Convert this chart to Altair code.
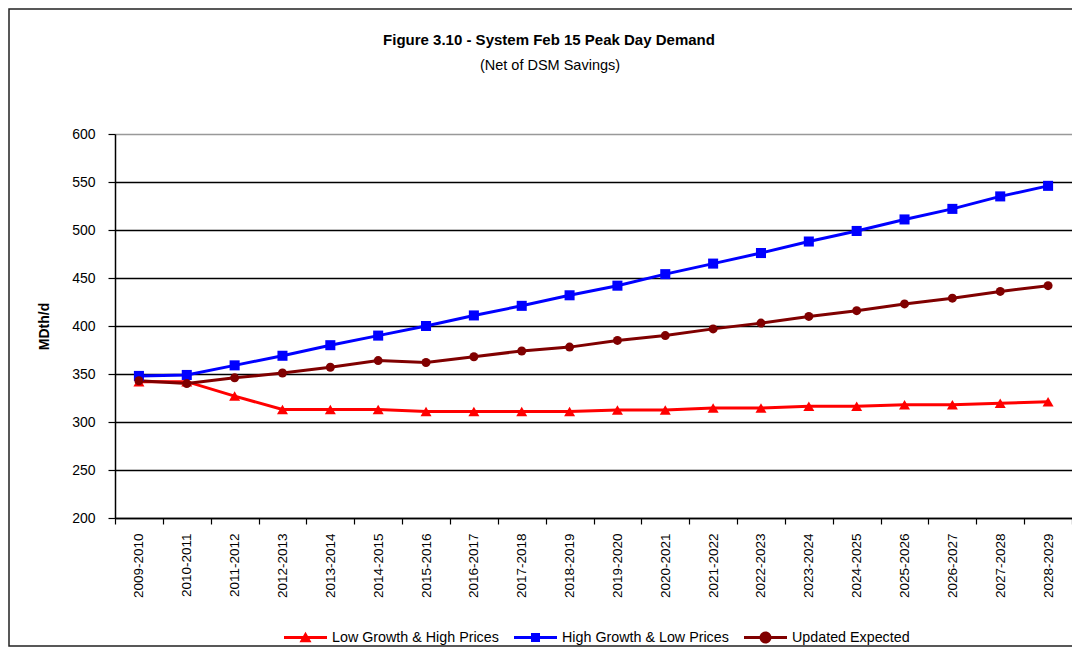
import altair as alt
import pandas as pd

periods = ["2009-2010", "2010-2011", "2011-2012", "2012-2013", "2013-2014",
           "2014-2015", "2015-2016", "2016-2017", "2017-2018", "2018-2019",
           "2019-2020", "2020-2021", "2021-2022", "2022-2023", "2023-2024",
           "2024-2025", "2025-2026", "2026-2027", "2027-2028", "2028-2029"]

low_growth = [342, 342, 327, 313, 313, 313, 311, 311, 311, 311,
              312.5, 312.5, 314.5, 314.5, 316.5, 316.5, 318, 318, 319.5, 321]
high_growth = [348, 349, 359, 369, 380, 390, 400, 411, 421, 432,
               442, 454, 465, 476, 488, 499, 511, 522, 535, 546]
updated_expected = [343, 340, 346, 351, 357, 364, 362, 368, 374, 378,
                    385, 390, 397, 403, 410, 416, 423, 429, 436, 442]

series_names = ["Low Growth & High Prices", "High Growth & Low Prices", "Updated Expected"]
series_colors = ["#FF0000", "#0000FF", "#800000"]
series_shapes = ["triangle-up", "square", "circle"]
series_sizes = [121, 81, 169]
series_widths = [3, 3, 2.5]

title_text = "Figure 3.10 - System Feb 15 Peak Day Demand"
subtitle_text = "(Net of DSM Savings)"

legend_paths = [
    "M-1,-0.07L1,-0.07L1,0.07L-1,0.07Z M0,-0.27L0.28,0.22L-0.28,0.22Z",
    "M-1,-0.07L1,-0.07L1,0.07L-1,0.07Z M-0.21,-0.21L0.21,-0.21L0.21,0.21L-0.21,0.21Z",
    "M-1,-0.07L1,-0.07L1,0.07L-1,0.07Z M0.28,0A0.28,0.28 0 1 1 -0.28,0A0.28,0.28 0 1 1 0.28,0Z",
]

rows = []
for name, vals in zip(series_names, [low_growth, high_growth, updated_expected]):
    for p, v in zip(periods, vals):
        rows.append({"period": p, "series": name, "lg": name, "value": v})
df = pd.DataFrame(rows)

FONT = "Liberation Sans"
W, H = 957, 384

x_enc = alt.X(
    "period:N", sort=periods, bandPosition=0.5,
    scale=alt.Scale(type="band", paddingInner=0, paddingOuter=0),
    axis=alt.Axis(title=None, tickBand="extent", tickSize=6, labelAngle=270,
                  labelPadding=9, labelFontSize=13.5, labelColor="#000",
                  domainColor="#000", tickColor="#000", domainWidth=1.5,
                  tickWidth=1.2, grid=False, labelFont=FONT),
)
y_enc = alt.Y(
    "value:Q",
    scale=alt.Scale(domain=[200, 600], nice=False, zero=False),
    axis=alt.Axis(title="MDth/d", values=list(range(200, 601, 50)),
                  titleFontSize=14, titleFontWeight="bold", titleColor="#000",
                  titleAngle=270, titleX=-71, titleY=H / 2, titleAlign="center",
                  titleBaseline="middle", titleFont=FONT,
                  labelFontSize=14, labelColor="#000", labelPadding=13, labelFont=FONT,
                  tickSize=7, tickColor="#000", tickWidth=1.2,
                  domainColor="#000", domainWidth=1.5,
                  grid=True, gridWidth=1.3,
                  gridColor={"condition": {"test": "datum.value === 600", "value": "#999999"},
                             "value": "#000000"}),
)

color_scale = alt.Scale(domain=series_names, range=series_colors)

base = alt.Chart(df)

lines = base.mark_line().encode(
    x=x_enc, y=y_enc,
    color=alt.Color("series:N", scale=color_scale, legend=None),
    strokeWidth=alt.StrokeWidth("series:N", scale=alt.Scale(domain=series_names, range=series_widths), legend=None),
)

points = base.mark_point(filled=True, opacity=1).encode(
    x=x_enc, y=y_enc,
    color=alt.Color("series:N", scale=color_scale, legend=None),
    shape=alt.Shape("series:N", scale=alt.Scale(domain=series_names, range=series_shapes), legend=None),
    size=alt.Size("series:N", scale=alt.Scale(domain=series_names, range=series_sizes), legend=None),
)

leg = alt.Legend(
    title=None, orient="none", legendX=169, legendY=482, direction="horizontal",
    symbolSize=1849, symbolStrokeWidth=0, symbolOpacity=1, labelFontSize=14.3,
    labelFont=FONT, labelColor="#000", labelOffset=5, columnPadding=15, padding=0,
    labelLimit=400,
)

legend_layer = base.mark_point(filled=True, opacity=0, size=4).encode(
    x=x_enc, y=y_enc,
    color=alt.Color("lg:N", scale=alt.Scale(domain=series_names, range=series_colors), legend=leg),
    shape=alt.Shape("lg:N", scale=alt.Scale(domain=series_names, range=legend_paths), legend=leg),
)

one = pd.DataFrame({"title": [title_text], "subtitle": [subtitle_text]})

frame = alt.Chart(one).mark_rect(
    filled=False, stroke="#222", strokeWidth=1.5
).encode(
    x=alt.value(-106), x2=alt.value(970),
    y=alt.value(-125), y2=alt.value(512),
)

title_mark = alt.Chart(one).mark_text(
    font=FONT, fontSize=15, fontWeight="bold", color="#000", align="center", baseline="middle"
).encode(text="title:N", x=alt.value(434), y=alt.value(-94))

subtitle_mark = alt.Chart(one).mark_text(
    font=FONT, fontSize=14.5, color="#000", align="center", baseline="middle"
).encode(text="subtitle:N", x=alt.value(435), y=alt.value(-68))

chart = alt.layer(lines, points, legend_layer, frame, title_mark, subtitle_mark).resolve_scale(
    color="independent", shape="independent"
).properties(
    width=W, height=H,
    autosize="none",
    padding={"left": 107, "top": 126, "right": 0, "bottom": 130},
).configure_view(stroke="#999999", strokeWidth=2).configure(background="white")

chart.save("out.html", embed_options={"renderer": "svg", "actions": False})
